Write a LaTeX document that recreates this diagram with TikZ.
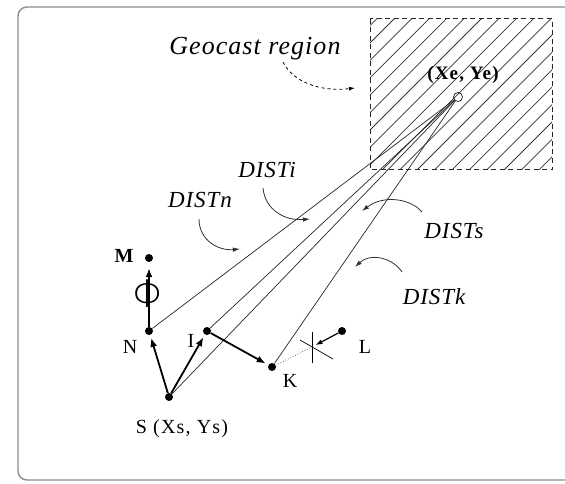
\documentclass[tikz,border=0pt]{standalone}
\usepackage{fontspec}
\setmainfont{Liberation Serif}
\usetikzlibrary{arrows.meta}
\newfontfamily\labfont{Liberation Serif}[LetterSpace=6]
\newfontfamily\itfont{Liberation Serif Italic}[LetterSpace=4]
\newfontfamily\phifont{DejaVu Sans ExtraLight}
\tikzset{
  dot/.style={circle,fill=black,inner sep=0pt,minimum size=8pt},
  lab/.style={anchor=base,inner sep=0pt,font=\labfont\fontsize{20}{22}\selectfont},
  itlab/.style={anchor=base,inner sep=0pt,font=\itfont\fontsize{23}{25}\selectfont},
  ray/.style={line width=0.7pt,black!85},
  bold arrow/.style={line width=1.8pt,-{Latex[length=9pt,width=7pt]}},
  small arrow/.style={line width=0.8pt,black!80,-{Latex[length=7pt,width=4.5pt]}},
  hatch/.style={line width=0.75pt,black!80},
}
\begin{document}
\begin{tikzpicture}[x=1pt,y=-1pt]
\clip (0,0) rectangle (565,484);
\useasboundingbox (0,0) rectangle (565,484);
% frame
\draw[black!45,line width=1.4pt,rounded corners=9pt] (18,480) rectangle (640,7);
% hatched geocast region
\begin{scope}
\clip (370,19) rectangle (552,170);
\foreach \c in {378.2,395.6,...,740} {
  \draw[hatch] (\c-250,250) -- (\c,0);
}
\end{scope}
\draw[line width=1pt,black!85,dash pattern=on 5pt off 3.5pt] (370,19) rectangle (552,170);
% points
\node[dot] (m) at (149,258) {};
\node[dot] (n) at (149,331) {};
\node[dot] (i) at (207,331) {};
\node[dot] (k) at (272,367) {};
\node[dot] (l) at (342,331) {};
\node[dot] (s) at (169,397) {};
\node[circle,draw,line width=0.6pt,inner sep=0pt,minimum size=9pt] (e) at (458,97) {};
% labels
\node[lab,font=\labfont\bfseries\fontsize{20}{22}\selectfont] at (124,262) {M};
\node[lab] at (130,353) {N};
\node[lab] at (191,347) {I};
\node[lab] at (290,387) {K};
\node[lab] at (365,353) {L};
\node[lab] at (182,433) {S (Xs, Ys)};
\node[lab,font=\labfont\bfseries\fontsize{19}{22}\selectfont] at (463,80) {(Xe, Ye)};
\node[itlab,font=\itfont\fontsize{26}{28}\selectfont] (geo) at (255,55) {Geocast region};
\node[itlab] (di) at (267,177) {DISTi};
\node[itlab] (dn) at (200,207) {DISTn};
\node[itlab] (ds) at (454,238) {DISTs};
\node[itlab] (dk) at (434,304) {DISTk};
% rays to destination
\draw[ray] (n) -- (e);
\draw[ray] (i) -- (e);
\draw[ray] (s) -- (e);
\draw[ray] (k) -- (e);
% bold arrows
\draw[bold arrow,shorten >=6pt] (n) -- (m);
\node[inner sep=0pt,font=\phifont\fontsize{38}{38}\selectfont] (phi) at (149,294) {Φ};
\draw[bold arrow,shorten >=3pt] (s) -- (n);
\draw[bold arrow,shorten >=3pt] (s) -- (i);
\draw[bold arrow,shorten >=3pt] (i) -- (k);
% K-L blocked link
\coordinate (x) at (312,347);
\draw[line width=0.7pt,black!70,dotted] (k) -- (x);
\draw[line width=0.7pt] (312,332) -- (312,363);
\draw[line width=0.7pt] (300,340) -- (333,359);
\draw[line width=1.2pt,-{Latex[length=7pt,width=5pt]},shorten >=4pt] (l) -- (x);
% label pointers
\coordinate (g1) at (283,62); \coordinate (g2) at (355,88);
\draw[line width=0.8pt,dash pattern=on 3pt off 3pt,-{Latex[length=6pt,width=4pt]}] (g1) .. controls (293,82) and (320,92) .. (g2);
\coordinate (i1) at (263,188); \coordinate (i2) at (310,219);
\draw[small arrow] (i1) .. controls (265,210) and (285,221) .. (i2);
\coordinate (n1) at (199,219); \coordinate (n2) at (240,249);
\draw[small arrow] (n1) .. controls (199,240) and (218,251) .. (n2);
\coordinate (s1) at (422,212); \coordinate (s2) at (362,211);
\draw[small arrow] (s1) .. controls (410,198) and (383,195) .. (s2);
\coordinate (k1) at (402,272); \coordinate (k2) at (355,267);
\draw[small arrow] (k1) .. controls (392,257) and (370,253) .. (k2);
\end{tikzpicture}
\end{document}
